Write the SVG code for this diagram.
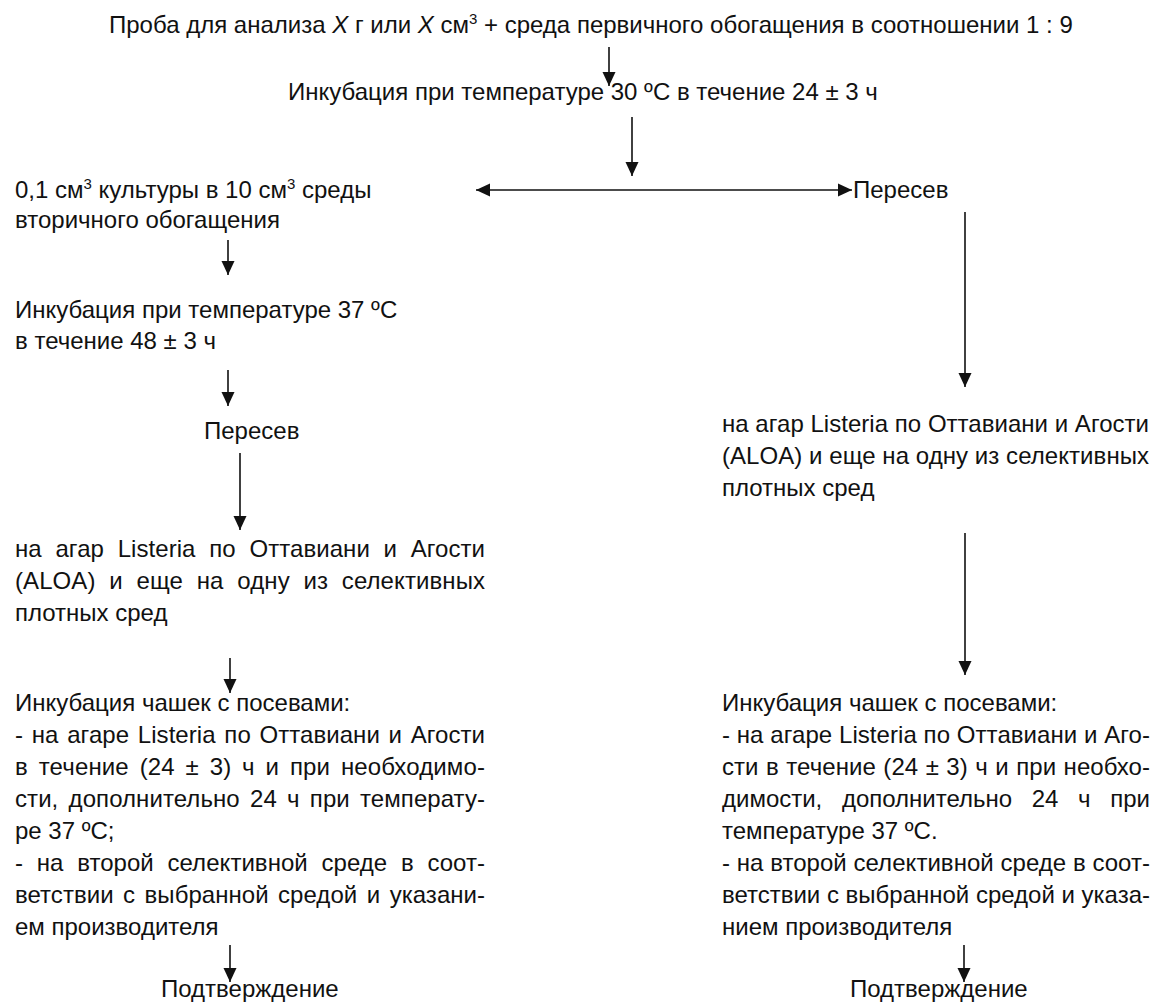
<svg xmlns="http://www.w3.org/2000/svg" width="1165" height="1002" viewBox="0 0 1165 1002">
<style>
text{font-family:"Liberation Sans",Arial,sans-serif;font-size:24px;fill:#111;}
.sup{font-size:15px;}
.it{font-style:italic;}
.c{stroke:#111;stroke-width:1.6;fill:none;}
</style>
<defs>
<marker id="ah" markerUnits="userSpaceOnUse" markerWidth="14" markerHeight="14" viewBox="0 0 14 14" refX="14" refY="7" orient="auto-start-reverse">
<path d="M0,0.5 L14,7 L0,13.5 z" fill="#111"/>
</marker>
</defs>
<rect width="1165" height="1002" fill="#fff"/>

<g id="connectors">
<path class="c" d="M609,47 V86" marker-end="url(#ah)"/>
<path class="c" d="M632,117 V176" marker-end="url(#ah)"/>
<path class="c" d="M476,190 H852" marker-start="url(#ah)" marker-end="url(#ah)"/>
<path class="c" d="M228,240 V275" marker-end="url(#ah)"/>
<path class="c" d="M228,370 V406" marker-end="url(#ah)"/>
<path class="c" d="M240,453 V530" marker-end="url(#ah)"/>
<path class="c" d="M230,658 V693" marker-end="url(#ah)"/>
<path class="c" d="M230,945 V982" marker-end="url(#ah)"/>
<path class="c" d="M965,212 V387" marker-end="url(#ah)"/>
<path class="c" d="M965,533 V675" marker-end="url(#ah)"/>
<path class="c" d="M964,945 V982" marker-end="url(#ah)"/>
</g>

<g id="n_sample">
<text x="109" y="33">Проба для анализа <tspan class="it">X</tspan> г или <tspan class="it">X</tspan> см<tspan class="sup" dy="-9">3</tspan><tspan dy="9"> + среда первичного обогащения в соотношении 1 : 9</tspan></text>
</g>

<g id="n_incub30">
<text x="288" y="100">Инкубация при температуре 30 ºС в течение 24 ± 3 ч</text>
</g>

<g id="n_secondary">
<text x="15" y="198">0,1 см<tspan class="sup" dy="-9">3</tspan><tspan dy="9"> культуры в 10 см</tspan><tspan class="sup" dy="-9">3</tspan><tspan dy="9"> среды</tspan></text>
<text x="15" y="228">вторичного обогащения</text>
</g>

<g id="n_reseed_right">
<text x="853" y="198">Пересев</text>
</g>

<g id="n_incub37">
<text x="15" y="318">Инкубация при температуре 37 ºС</text>
<text x="15" y="349">в течение 48 ± 3 ч</text>
</g>

<g id="n_reseed_left">
<text x="204" y="439">Пересев</text>
</g>

<g id="n_agar_left">
<text x="15" y="557" style="word-spacing:7px" textLength="470" lengthAdjust="spacing">на агар Listeria по Оттавиани и Агости</text>
<text x="15" y="589" style="word-spacing:7px" textLength="470" lengthAdjust="spacing">(ALOA) и еще на одну из селективных</text>
<text x="15" y="621">плотных сред</text>
</g>

<g id="n_agar_right">
<text x="722" y="432" textLength="427" lengthAdjust="spacing">на агар Listeria по Оттавиани и Агости</text>
<text x="722" y="464" textLength="427" lengthAdjust="spacing">(ALOA) и еще на одну из селективных</text>
<text x="722" y="496">плотных сред</text>
</g>

<g id="n_plates_left">
<text x="15" y="711">Инкубация чашек с посевами:</text>
<text x="15" y="743" style="word-spacing:2px" textLength="470" lengthAdjust="spacing">- на агаре Listeria по Оттавиани и Агости</text>
<text x="15" y="775" style="word-spacing:4px" textLength="470" lengthAdjust="spacing">в течение (24 ± 3) ч и при необходимо-</text>
<text x="15" y="807" style="word-spacing:3.5px" textLength="470" lengthAdjust="spacing">сти, дополнительно 24 ч при температу-</text>
<text x="15" y="839">ре 37 ºС;</text>
<text x="15" y="871" style="word-spacing:7px" textLength="470" lengthAdjust="spacing">- на второй селективной среде в соот-</text>
<text x="15" y="903" style="word-spacing:2.8px" textLength="470" lengthAdjust="spacing">ветствии с выбранной средой и указани-</text>
<text x="15" y="935">ем производителя</text>
</g>

<g id="n_plates_right">
<text x="722" y="711">Инкубация чашек с посевами:</text>
<text x="722" y="743" textLength="428" lengthAdjust="spacing">- на агаре Listeria по Оттавиани и Аго-</text>
<text x="722" y="775" style="word-spacing:0.7px" textLength="428" lengthAdjust="spacing">сти в течение (24 ± 3) ч и при необхо-</text>
<text x="722" y="807" style="word-spacing:13px" textLength="428" lengthAdjust="spacing">димости, дополнительно 24 ч при</text>
<text x="722" y="839">температуре 37 ºС.</text>
<text x="722" y="871" textLength="428" lengthAdjust="spacing">- на второй селективной среде в соот-</text>
<text x="722" y="903" textLength="428" lengthAdjust="spacing">ветствии с выбранной средой и указа-</text>
<text x="722" y="935">нием производителя</text>
</g>

<g id="n_confirm_left">
<text x="161" y="997">Подтверждение</text>
</g>

<g id="n_confirm_right">
<text x="850" y="997">Подтверждение</text>
</g>
</svg>
